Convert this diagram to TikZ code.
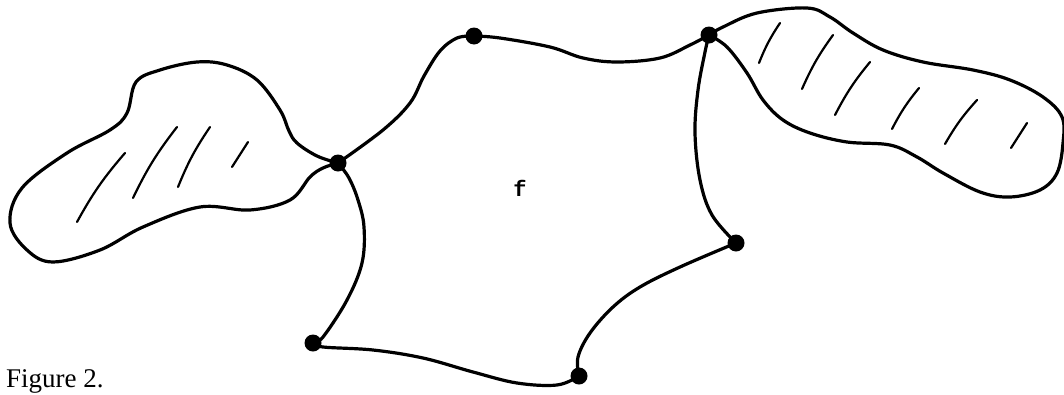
\documentclass[tikz,border=0pt]{standalone}
\usepackage{fontspec}
\setmainfont{Liberation Serif}
\newfontfamily\tyfont{Liberation Mono}
\begin{document}
\begin{tikzpicture}[x=1pt,y=-1pt,
  edge/.style={line width=3.2pt,line join=round,line cap=round},
  hatch/.style={line width=2.2pt,line cap=round},
  vdot/.style={circle,fill=black,inner sep=0pt,minimum size=17pt}]
\useasboundingbox (0,0) rectangle (1064,394);
% vertex positions
\coordinate (pA) at (338,163);
\coordinate (pB) at (474,36);
\coordinate (pC) at (709,35);
\coordinate (pD) at (736,243);
\coordinate (pE) at (579,376);
\coordinate (pF) at (313,343);
% face edges
\draw[edge] plot[smooth,tension=0.6] coordinates {(pA) (383,130) (410,103) (424,76) (440,51) (457,38) (pB)};
\draw[edge] plot[smooth,tension=0.6] coordinates {(pB) (500,38) (550,47) (583,58) (617,62) (660,58) (690,45) (pC)};
\draw[edge] plot[smooth,tension=0.6] coordinates {(pC) (705,52) (698,90) (695,133) (700,180) (712,215) (pD)};
\draw[edge] plot[smooth,tension=0.6] coordinates {(pD) (680,267) (640,287) (613,307) (590,333) (578,357) (pE)};
\draw[edge] plot[smooth,tension=0.6] coordinates {(pE) (557,385) (517,383) (473,372) (423,358) (373,350) (323,347) (pF)};
\draw[edge] plot[smooth,tension=0.6] coordinates {(pF) (323,337) (347,300) (362,263) (364,227) (358,200) (349,178) (pA)};
% left shaded region
\draw[edge] plot[smooth,tension=0.6] coordinates {(pA) (317,156) (297,143) (289,131) (280,110) (257,80) (227,65) (197,62) (160,70) (136,82) (127,113) (110,130) (67,153) (22,188) (10,223) (27,250) (53,262) (100,250) (143,227) (200,207) (250,210) (290,200) (310,177) (323,168) (pA)};
\draw[hatch] (125,153) to[bend right=6] (77,222);
\draw[hatch] (177,127) to[bend right=6] (133,198);
\draw[hatch] (210,127) to[bend right=6] (178,187);
\draw[hatch] (248,142) -- (232,167);
% right shaded region
\draw[edge] plot[smooth,tension=0.6] coordinates {(pC) (723,27) (757,13) (807,8) (830,17) (853,33) (883,50) (923,62) (973,70) (1010,80) (1043,97) (1062,117) (1063,143) (1057,173) (1040,190) (1010,197) (980,192) (943,173) (917,157) (890,145) (847,142) (810,133) (783,120) (763,100) (747,73) (727,47) (pC)};
\draw[hatch] (780,23) to[bend right=6] (759,63);
\draw[hatch] (833,35) to[bend right=6] (802,89);
\draw[hatch] (870,62) to[bend right=6] (835,115);
\draw[hatch] (919,88) to[bend right=6] (892,129);
\draw[hatch] (977,100) to[bend right=6] (945,144);
\draw[hatch] (1027,123) -- (1011,148);
% vertices
\node[vdot] (A) at (pA) {};
\node[vdot] (B) at (pB) {};
\node[vdot] (C) at (pC) {};
\node[vdot] (D) at (pD) {};
\node[vdot] (E) at (pE) {};
\node[vdot] (F) at (pF) {};
% labels
\node[anchor=base,inner sep=0pt,font=\tyfont\bfseries\fontsize{22}{26}\selectfont] (flab) at (520,196) {f};
\node[anchor=base west,inner sep=0pt,font=\fontsize{27}{32}\selectfont] (cap) at (6,387) {Figure 2.};
\end{tikzpicture}
\end{document}
